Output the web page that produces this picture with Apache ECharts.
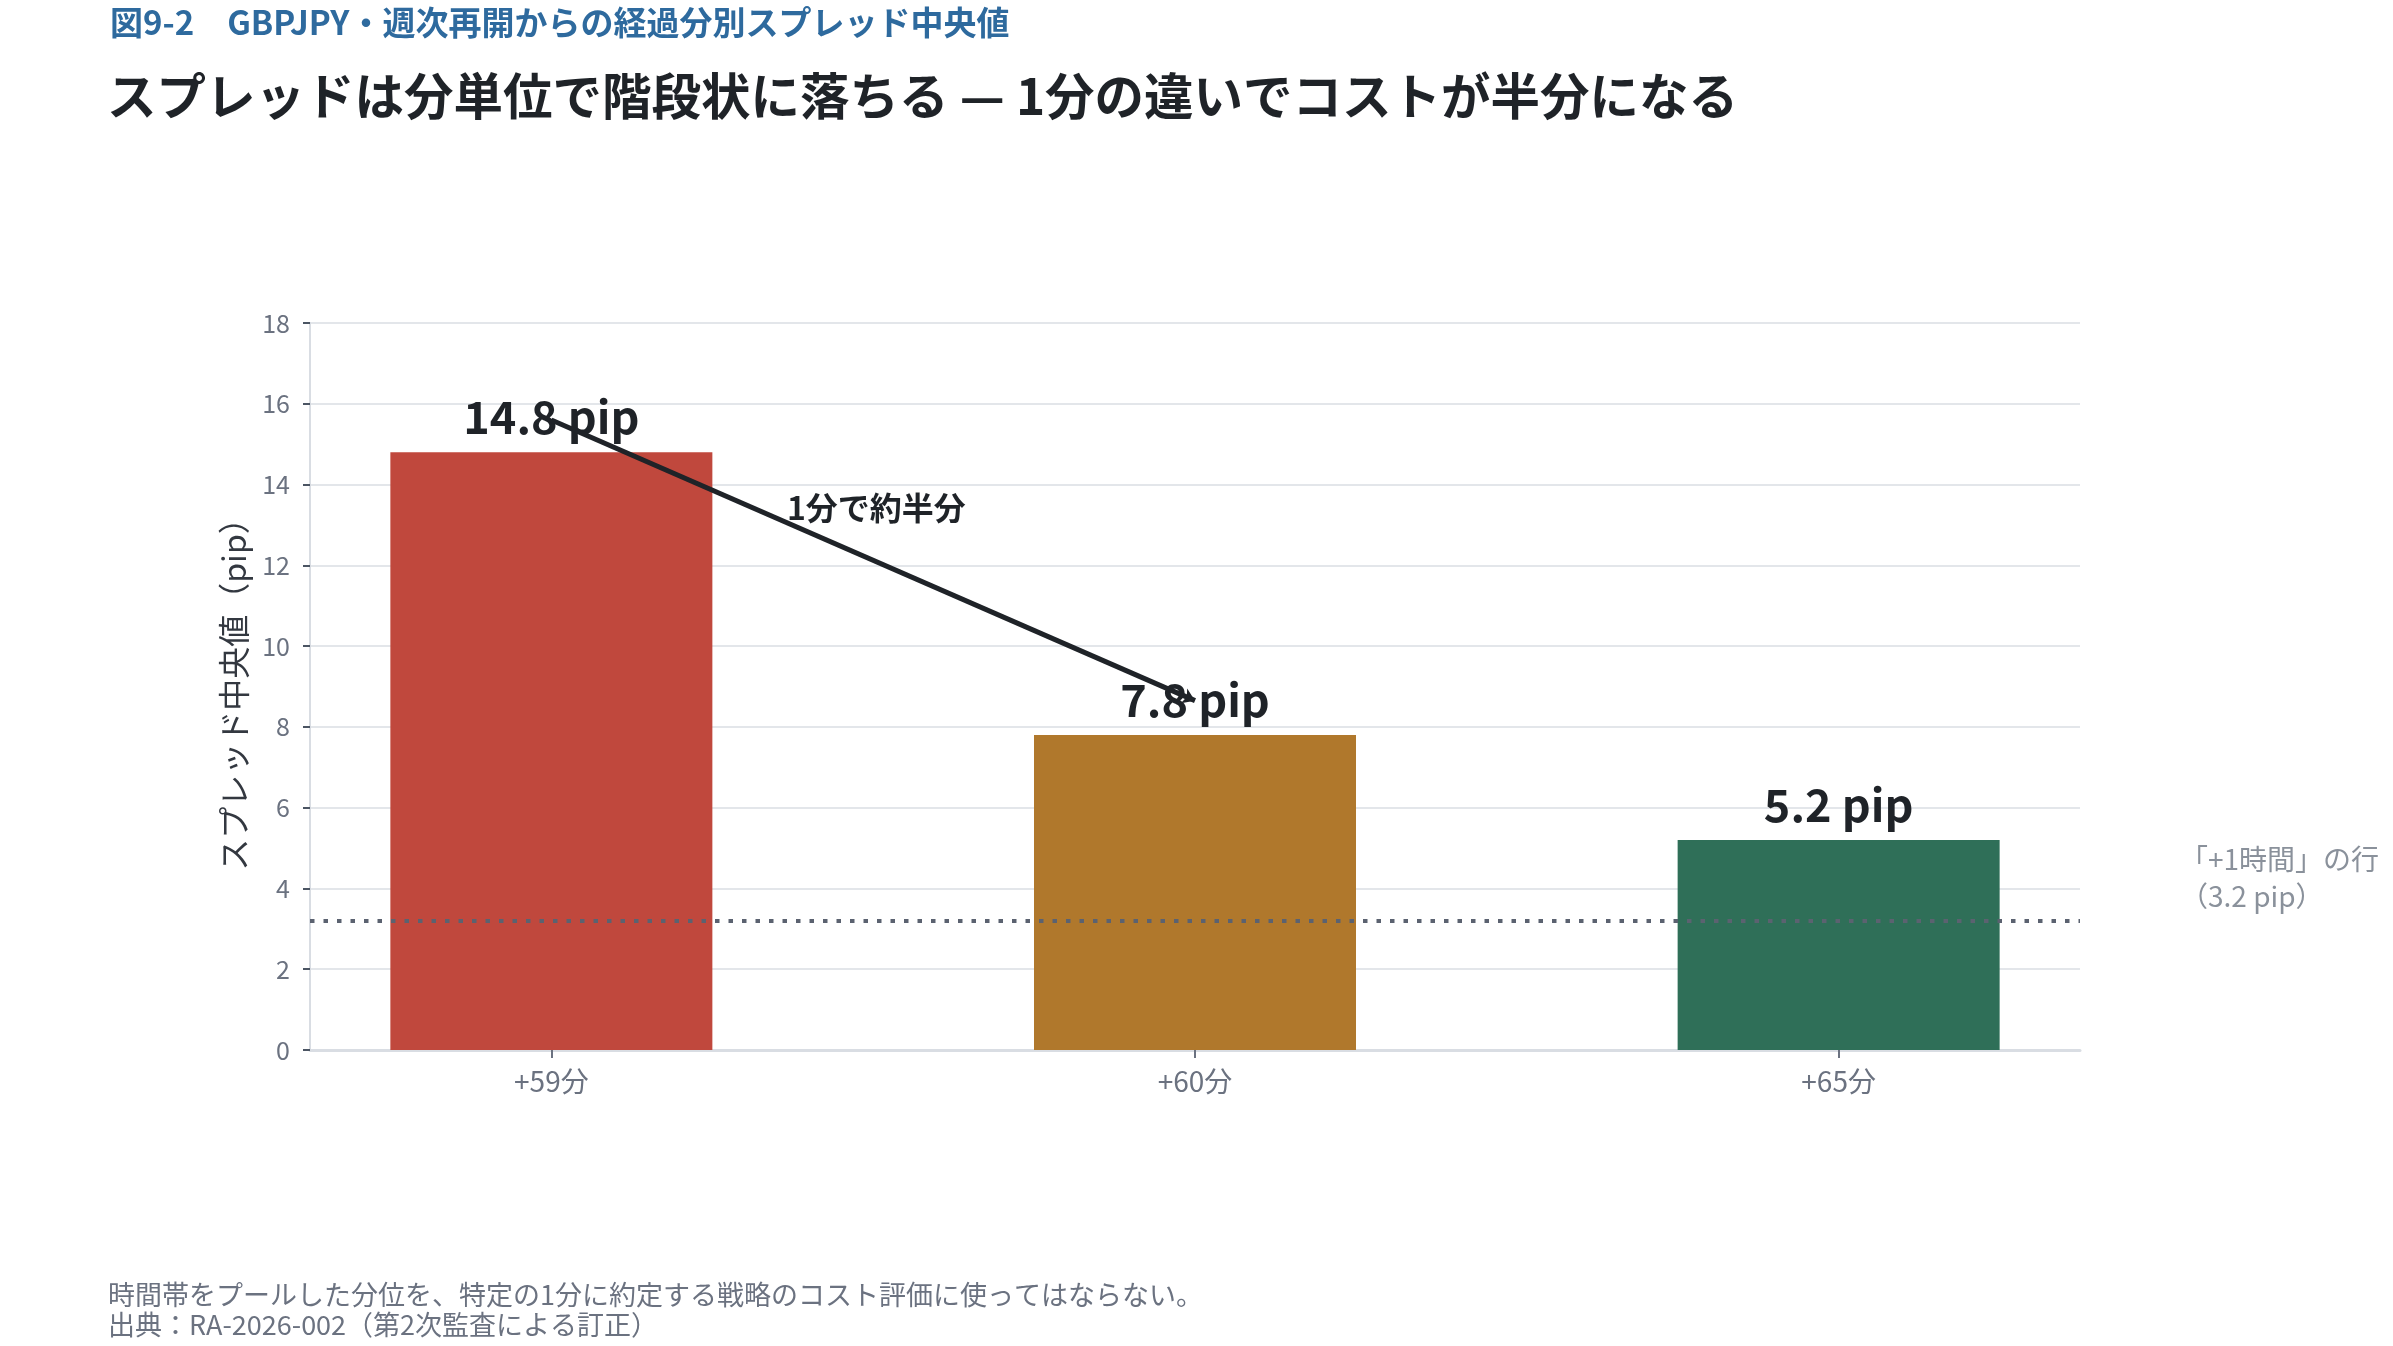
<!DOCTYPE html>
<html>
<head>
<meta charset="utf-8">
<script src="https://cdn.jsdelivr.net/npm/echarts@6/dist/echarts.min.js"></script>
<style>
  html, body { margin: 0; padding: 0; background: #fff; }
  #chart { width: 2393px; height: 1346px; }
</style>
</head>
<body>
<div id="chart"></div>
<script>
// データ
const categories = ['+59分', '+60分', '+65分'];
const spreads = [14.8, 7.8, 5.2];
const barColors = ['#c0483d', '#b0782c', '#2f6f58'];
const hourRowLevel = 3.2;
const yTicks = [0, 18, 2]; // min, max, interval

const FONT = 'Noto Sans CJK JP';
const chart = echarts.init(document.getElementById('chart'));

// 注釈の矢印 (+59分 -> +60分)
const arrowFrom = [0, spreads[0] + 0.8];
const arrowTo = [1.0, spreads[1] + 0.85];
const arrowStyle = { type: 'solid', color: '#1f2328', width: 5 };

var option = {
  textStyle: { fontFamily: FONT },
  title: [
    {
      text: '図9-2　GBPJPY・週次再開からの経過分別スプレッド中央値',
      left: 110, top: 6, padding: 0,
      textStyle: { color: '#2e6a9e', fontSize: 33, fontWeight: 'bold', fontFamily: FONT }
    },
    {
      text: 'スプレッドは分単位で階段状に落ちる — 1分の違いでコストが半分になる',
      left: 107, top: 71, padding: 0,
      textStyle: { color: '#1f2328', fontSize: 49.5, fontWeight: 'bold', fontFamily: FONT }
    },
    {
      text: '時間帯をプールした分位を、特定の1分に約定する戦略のコスト評価に使ってはならない。\n出典：RA-2026-002（第2次監査による訂正）',
      left: 108, top: 1280, padding: 0,
      textStyle: { color: '#6b7280', fontSize: 27, lineHeight: 30, fontWeight: 'normal', fontFamily: FONT }
    }
  ],
  grid: { left: 310, right: 313, top: 323, bottom: 296 },
  xAxis: {
    type: 'value',
    min: -0.375,
    max: 2.375,
    splitLine: { show: false },
    axisLine: { show: true, onZero: false, lineStyle: { color: '#d9dde3', width: 3 } },
    axisTick: { show: true, length: 8, customValues: [0, 1, 2], lineStyle: { color: '#6b7280', width: 2 } },
    axisLabel: {
      customValues: [0, 1, 2],
      formatter: (v) => categories[Math.round(v)],
      color: '#6b7280', fontSize: 28, margin: 17, fontFamily: FONT
    }
  },
  yAxis: {
    type: 'value',
    min: yTicks[0],
    max: yTicks[1],
    interval: yTicks[2],
    name: 'スプレッド中央値（pip）',
    nameLocation: 'middle',
    nameGap: 60,
    nameTextStyle: { color: '#333840', fontSize: 32, fontFamily: FONT },
    axisLine: { show: true, onZero: false, lineStyle: { color: '#d9dde3', width: 2 } },
    axisTick: { show: true, length: 7, lineStyle: { color: '#4b5563', width: 2 } },
    axisLabel: { color: '#6b7280', fontSize: 25, margin: 20, fontFamily: FONT },
    splitLine: { lineStyle: { color: '#e3e6ea', width: 2 } }
  },
  series: [
    {
      type: 'bar',
      barWidth: 322,
      data: spreads.map((v, i) => ({ value: [i, v], itemStyle: { color: barColors[i] } })),
      label: {
        show: true,
        position: 'top',
        distance: 13,
        formatter: (p) => p.value[1].toFixed(1) + ' pip',
        color: '#1f2328',
        fontSize: 45,
        fontWeight: 'bold',
        fontFamily: FONT
      },
      markLine: {
        silent: true,
        animation: false,
        symbol: ['none', 'none'],
        data: [
          {
            yAxis: hourRowLevel,
            lineStyle: { type: [4.5, 9], color: '#5b6270', width: 4 },
            label: {
              show: true,
              position: 'end',
              distance: 100,
              offset: [0, -43],
              formatter: '「+1時間」の行\n（' + hourRowLevel.toFixed(1) + ' pip）',
              color: '#8a919b',
              fontSize: 28,
              lineHeight: 37,
              align: 'left',
              fontFamily: FONT
            }
          },
          [
            { coord: arrowFrom, symbol: 'none', lineStyle: arrowStyle, label: { show: false } },
            { coord: arrowTo, symbol: 'arrow', symbolSize: 12, lineStyle: arrowStyle, label: { show: false } }
          ]
        ]
      },
      markPoint: {
        silent: true,
        animation: false,
        symbol: 'circle',
        symbolSize: 0,
        data: [
          {
            coord: [(arrowFrom[0] + arrowTo[0]) / 2 + 0.005, (arrowFrom[1] + arrowTo[1]) / 2 + 1.3],
            label: {
              show: true,
              position: 'inside',
              formatter: '1分で約半分',
              color: '#1f2328',
              fontSize: 32,
              fontWeight: 'bold',
              fontFamily: FONT
            }
          }
        ]
      }
    }
  ]
};

chart.setOption(option);
</script>
</body>
</html>
